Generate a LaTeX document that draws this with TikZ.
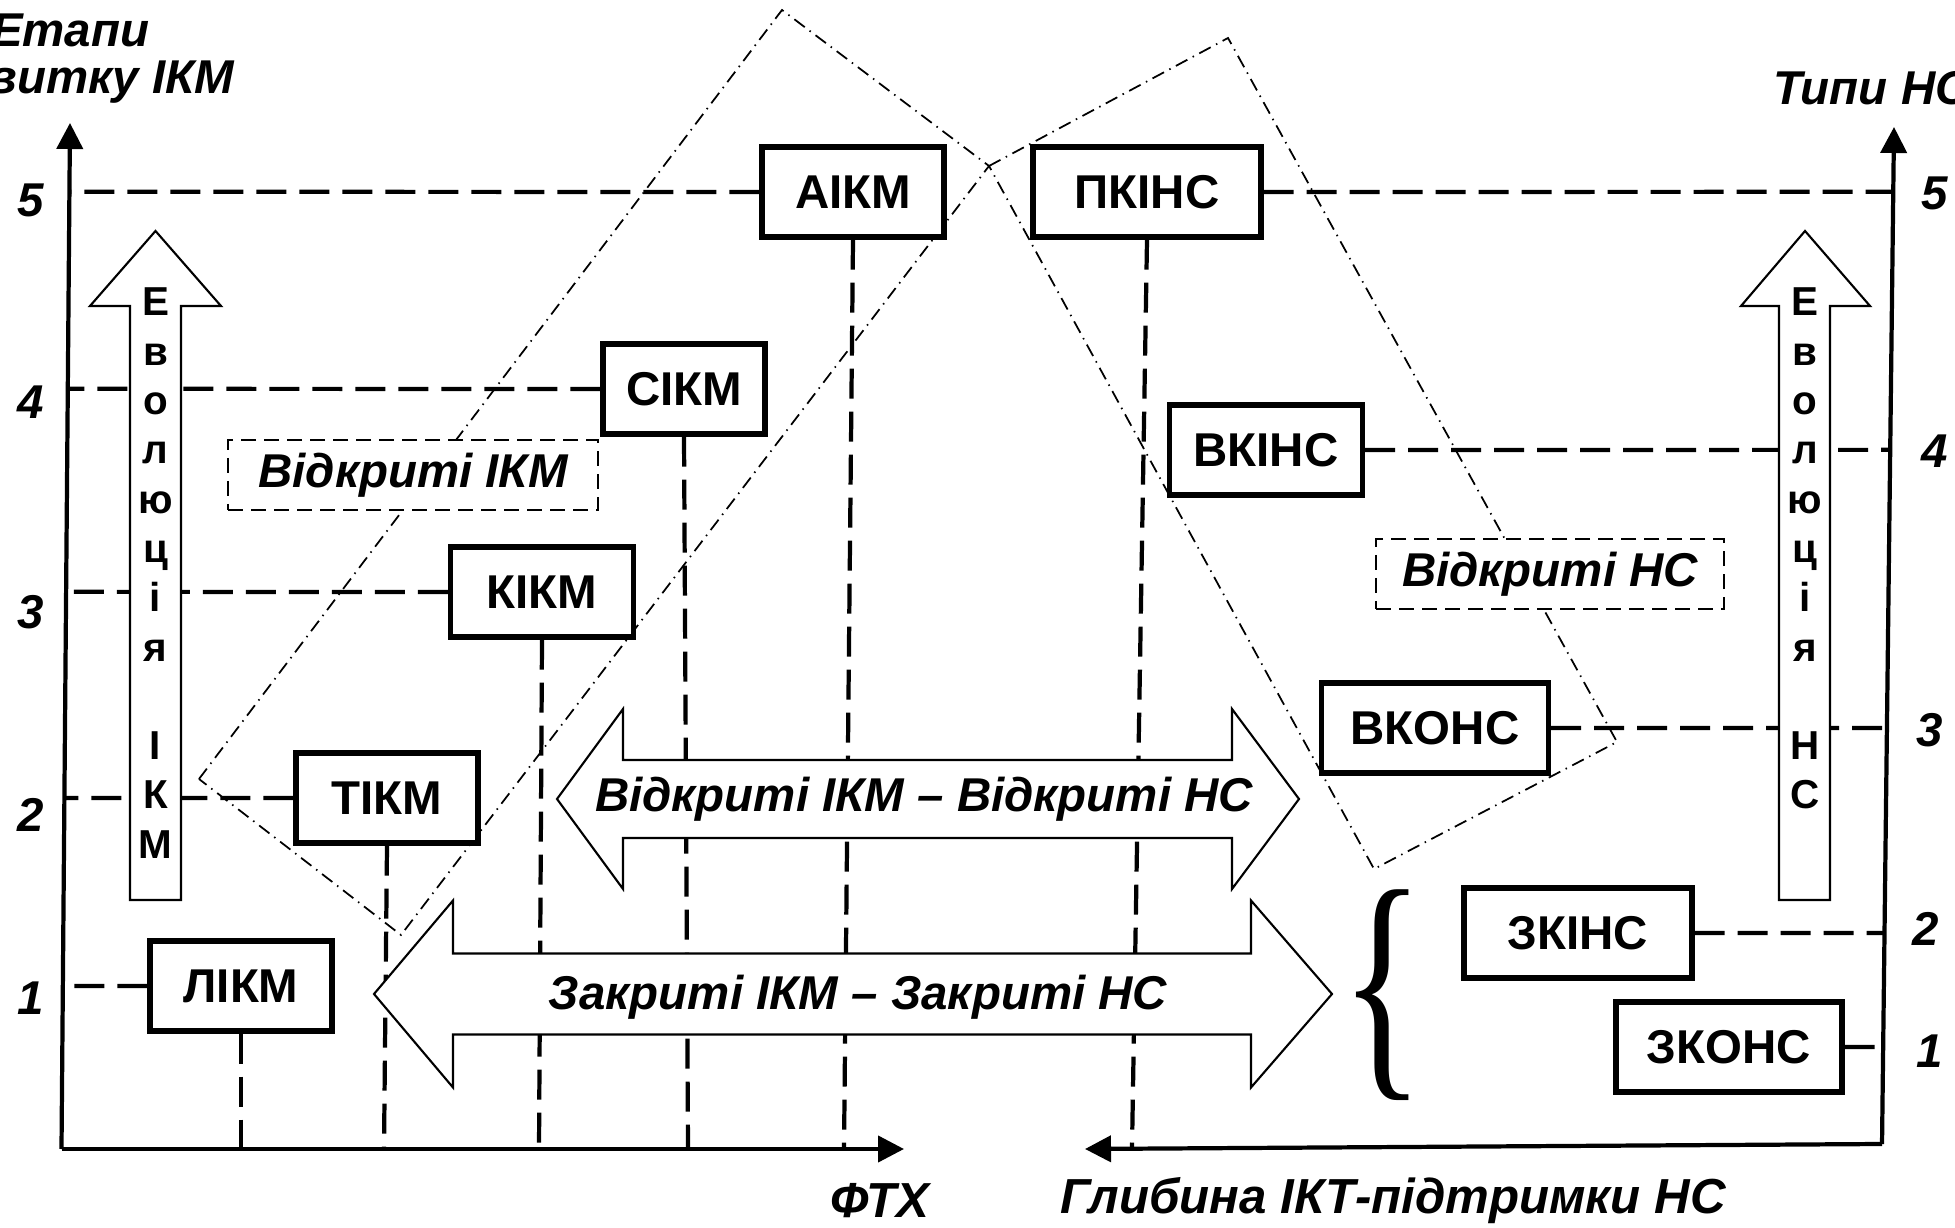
\documentclass[tikz,border=0pt]{standalone}
\usepackage{fontspec}
\setmainfont{Liberation Sans}
\newfontfamily\bracefont{Liberation Serif}
\usetikzlibrary{arrows.meta,calc}
\pgfdeclarelayer{background}
\pgfsetlayers{background,main}

\begin{document}
\begin{tikzpicture}[
    stagebox/.style={draw,line width=1.5pt,fill=white,minimum height=0.9cm,inner sep=0pt,font=\fontsize{13.5}{16}\selectfont\bfseries},
    levelline/.style={line width=1.2pt,dash pattern=on 0.3cm off 0.13cm},
    axisline/.style={line width=1.2pt,-{Triangle[length=0.26cm,width=0.26cm]}},
    zoneline/.style={line width=0.5pt,dash pattern=on 0.13cm off 0.06cm on 0.015cm off 0.06cm},
    blockarrow/.style={draw,line width=0.6pt,fill=white},
    itlabel/.style={font=\fontsize{13.5}{13.5}\selectfont\bfseries\itshape},
    groupbox/.style={itlabel,draw,fill=white,line width=0.6pt,dash pattern=on 0.15cm off 0.08cm,minimum height=0.7cm},
    evoletter/.style={font=\fontsize{11.5}{12}\selectfont\bfseries,inner sep=0pt,anchor=base}
  ]
  \useasboundingbox (0,0) rectangle (19.55,12.27);

  % axes
  \coordinate (o) at (0.615,0.78);
  \coordinate (ytop) at (0.70,11.04);
  \coordinate (xend) at (9.04,0.78);
  \coordinate (r) at (18.82,0.83);
  \coordinate (rtop) at (18.94,11.00);
  \coordinate (rend) at (10.85,0.78);
  \draw[axisline] (o) -- (ytop);
  \draw[axisline] (o) -- (xend);
  \draw[axisline] (r) -- (rtop);
  \draw[axisline] (r) -- (rend);

  \node[itlabel,align=center,anchor=north east,inner sep=0pt] (ytitle) at (2.35,12.14) {Етапи\\розвитку ІКМ};
  \node[itlabel,anchor=base west,inner sep=0pt] (rtitle) at (17.73,11.22) {Типи НС};
  \node[itlabel,font=\fontsize{14}{14}\selectfont\bfseries\itshape] (xtitle) at (8.80,0.26) {ФТХ};
  \node[itlabel,font=\fontsize{14}{14}\selectfont\bfseries\itshape] (rxtitle) at (13.93,0.26) {Глибина ІКТ-підтримки НС};

  \foreach \n/\y in {5/10.27,4/8.25,3/6.15,2/4.12,1/2.29}
    \node[itlabel] (left\n) at (0.31,\y) {\n};
  \foreach \n/\x/\y in {5/19.35/10.34,4/19.35/7.76,3/19.30/4.97,2/19.26/2.98,1/19.30/1.76}
    \node[itlabel] (right\n) at (\x,\y) {\n};

  % stages
  \node[stagebox,minimum width=1.82cm] (aikm) at (8.53,10.35) {АІКМ};
  \node[stagebox,minimum width=2.28cm] (pkins) at (11.47,10.35) {ПКІНС};
  \node[stagebox,minimum width=1.62cm] (sikm) at (6.84,8.38) {СІКМ};
  \node[stagebox,minimum width=1.93cm] (vkins) at (12.66,7.77) {ВКІНС};
  \node[stagebox,minimum width=1.83cm] (kikm) at (5.42,6.35) {КІКМ};
  \node[stagebox,minimum width=2.27cm] (vkons) at (14.35,4.99) {ВКОНС};
  \node[stagebox,minimum width=1.82cm] (tikm) at (3.87,4.29) {ТІКМ};
  \node[stagebox,minimum width=1.82cm] (likm) at (2.41,2.41) {ЛІКМ};
  \node[stagebox,minimum width=2.28cm] (zkins) at (15.78,2.94) {ЗКІНС};
  \node[stagebox,minimum width=2.26cm] (zkons) at (17.29,1.80) {ЗКОНС};

  \begin{pgfonlayer}{background}
    \foreach \b/\x in {likm/2.41,tikm/3.84,kikm/5.39,sikm/6.88,aikm/8.44}{
      \draw[levelline] (\b.west) -- (intersection cs: first line={(o)--(ytop)}, second line={(\b.west)--($(\b.west)+(1,0)$)});
      \draw[levelline] (\b.south) -- (\x,0.78);
    }
    \foreach \b in {pkins,vkins,vkons,zkins,zkons}
      \draw[levelline] (\b.east) -- (intersection cs: first line={(r)--(rtop)}, second line={(\b.east)--($(\b.east)+(1,0)$)});
    \draw[levelline] (pkins.south) -- (11.32,0.79);
    \draw[zoneline] (1.99,4.48) -- (7.82,12.17) -- (9.89,10.61) -- (4.01,2.92) -- cycle;
    \draw[zoneline] (9.89,10.61) -- (12.28,11.89) -- (16.17,4.85) -- (13.74,3.58) -- cycle;
  \end{pgfonlayer}

  % evolution arrows
  \draw[blockarrow] (1.30,3.27) -- (1.30,9.21) -- (0.90,9.21) -- (1.555,9.96) -- (2.21,9.21) -- (1.81,9.21) -- (1.81,3.27) -- cycle;
  \foreach \k/\c in {0/Е,1/в,2/о,3/л,4/ю,5/ц,6/і,7/я,9/І,10/К,11/М}
    \node[evoletter] (evoikm\k) at (1.555,{9.11-0.493*\k}) {\c};
  \draw[blockarrow] (17.79,3.27) -- (17.79,9.21) -- (17.41,9.21) -- (18.05,9.96) -- (18.70,9.21) -- (18.30,9.21) -- (18.30,3.27) -- cycle;
  \foreach \k/\c in {0/Е,1/в,2/о,3/л,4/ю,5/ц,6/і,7/я,9/Н,10/С}
    \node[evoletter] (evons\k) at (18.05,{9.11-0.493*\k}) {\c};

  % double arrows
  \draw[blockarrow] (5.57,4.28) -- (6.23,5.18) -- (6.23,4.67) -- (12.32,4.67) -- (12.32,5.18) -- (12.99,4.28)
    -- (12.32,3.38) -- (12.32,3.89) -- (6.23,3.89) -- (6.23,3.38) -- cycle;
  \node[itlabel] (openboth) at (9.24,4.28) {Відкриті ІКМ – Відкриті НС};
  \draw[blockarrow] (3.74,2.33) -- (4.53,3.265) -- (4.53,2.735) -- (12.51,2.735) -- (12.51,3.265) -- (13.32,2.33)
    -- (12.51,1.395) -- (12.51,1.925) -- (4.53,1.925) -- (4.53,1.395) -- cycle;
  \node[itlabel] (closedboth) at (8.58,2.30) {Закриті ІКМ – Закриті НС};

  \node[inner sep=0pt,font=\bracefont\fontsize{50}{50}\selectfont] (brace) at (13.83,2.32) {\scalebox{1}[1.45]{\{}};

  \node[groupbox,minimum width=3.70cm] (openikm) at (4.13,7.52) {Відкриті ІКМ};
  \node[groupbox,minimum width=3.48cm] (openns) at (15.50,6.53) {Відкриті НС};
\end{tikzpicture}
\end{document}
